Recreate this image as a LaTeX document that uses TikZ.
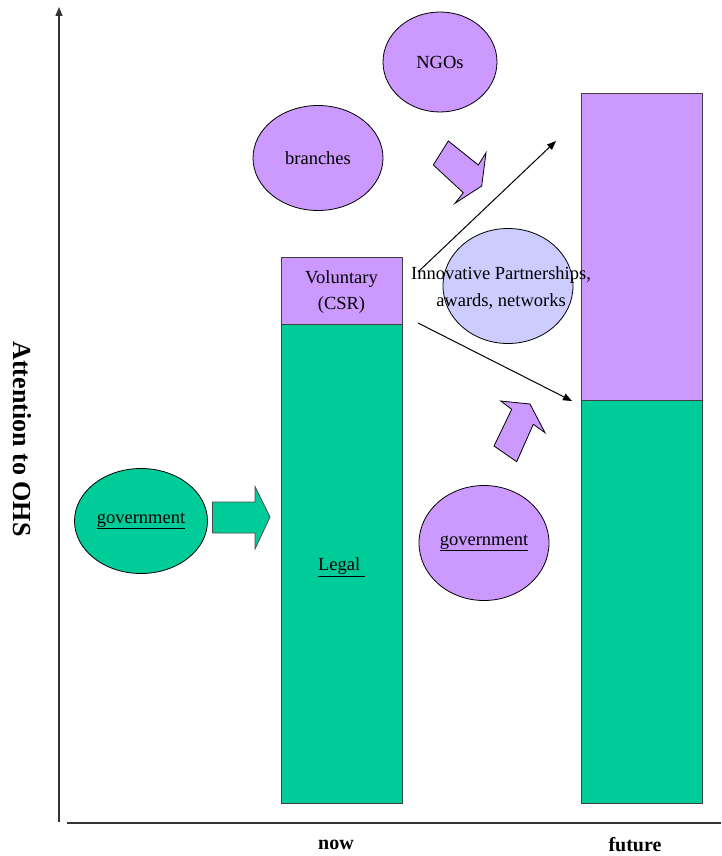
\documentclass[tikz,border=0pt]{standalone}
\usepackage{fontspec}
\setmainfont{Liberation Serif}
\usetikzlibrary{shapes.geometric,arrows.meta}
\definecolor{ggreen}{HTML}{00CC99}
\definecolor{gpurple}{HTML}{CC99FF}
\definecolor{gblue}{HTML}{CCCCFF}
\begin{document}
\begin{tikzpicture}[x=1pt,y=-1pt,
  bar/.style={draw=black!75,line width=0.8pt,rectangle,minimum width=121pt,inner sep=0pt,outer sep=0pt,font=\fontsize{18.5}{26}\selectfont,align=center},
  blob/.style={draw=black,line width=0.8pt,ellipse,inner sep=0pt,outer sep=0pt},
  lbl/.style={font=\fontsize{18.5}{27}\selectfont,align=center,inner sep=0pt},
  axlbl/.style={font=\bfseries\fontsize{20}{24}\selectfont,inner sep=0pt},
  blockarrow/.style={draw=black!70,line width=0.8pt},
  pointer/.style={draw=black,line width=1pt,-{Triangle[length=9pt,width=7pt]}}
]
\useasboundingbox (0,0) rectangle (721,856);

% axes
\coordinate (yb) at (59,822);
\coordinate (yt) at (59,7);
\coordinate (xa) at (67,823);
\coordinate (xb) at (721,823);
\draw[line width=1.3pt,black!80,-{Triangle[length=9pt,width=7pt]}] (yb) -- (yt);
\draw[line width=1.6pt,black!80] (xa) -- (xb);
\node[axlbl,font=\bfseries\fontsize{26}{30}\selectfont,rotate=-90] (ylab) at (22,439) {Attention to OHS};
\node[axlbl] (now) at (336,845) {now};
\node[axlbl] (future) at (635,845) {future};

% bars
\node[bar,fill=gpurple,minimum height=67pt] (vol) at (341.5,290.5) {};
\node[lbl,font=\fontsize{18.5}{26}\selectfont] (voltxt) at (341.5,292) {Voluntary\\(CSR)};
\node[bar,fill=ggreen,minimum height=479pt] (legal) at (341.5,563.5) {};
\node[lbl] (legaltxt) at (341.5,567) {\underline{Legal\ }};
\node[bar,fill=gpurple,minimum height=307pt] (futvol) at (641.5,246.5) {};
\node[bar,fill=ggreen,minimum height=403pt] (futleg) at (641.5,601.5) {};

% ellipses
\node[blob,fill=gpurple,minimum width=114pt,minimum height=100pt] (ngo) at (440,62) {};
\node[lbl] at (ngo.center) {NGOs};
\node[blob,fill=gpurple,minimum width=130pt,minimum height=105pt] (branch) at (318,158) {};
\node[lbl] at (branch.center) {branches};
\node[blob,fill=gblue,minimum width=130pt,minimum height=115pt] (innov) at (508,286) {};
\node[blob,fill=ggreen,minimum width=133pt,minimum height=105pt] (gov1) at (141,521) {};
\node[lbl] at (gov1.center) {\underline{government}};
\node[blob,fill=gpurple,minimum width=130pt,minimum height=115pt] (gov2) at (484,543) {};
\node[lbl] at (gov2.center) {\underline{government}};

% black pointers
\coordinate (p1s) at (418,272);
\coordinate (p1e) at (556,141);
\coordinate (p2s) at (418,323);
\coordinate (p2e) at (572,401);
\draw[pointer] (p1s) -- (p1e);
\draw[pointer] (p2s) -- (p2e);

\node[lbl] (innovtxt) at (501,288) {Innovative Partnerships,\\awards, networks};

% block arrows
\draw[blockarrow,fill=ggreen] (212.5,502) -- (255,502) -- (255,486.5) -- (270,517) -- (255,549) -- (255,533) -- (212.5,533) -- cycle;
\draw[blockarrow,draw=black,fill=gpurple] (448.3,141) -- (478.3,165) -- (486,152.7) -- (481.7,186) -- (455,203.3) -- (463.3,192.7) -- (433.3,165) -- cycle;
\draw[blockarrow,draw=black,fill=gpurple] (500.7,401) -- (530,404) -- (545,432.7) -- (533.3,424.3) -- (516.7,461.7) -- (494,446) -- (511.7,409.3) -- cycle;
\end{tikzpicture}
\end{document}
